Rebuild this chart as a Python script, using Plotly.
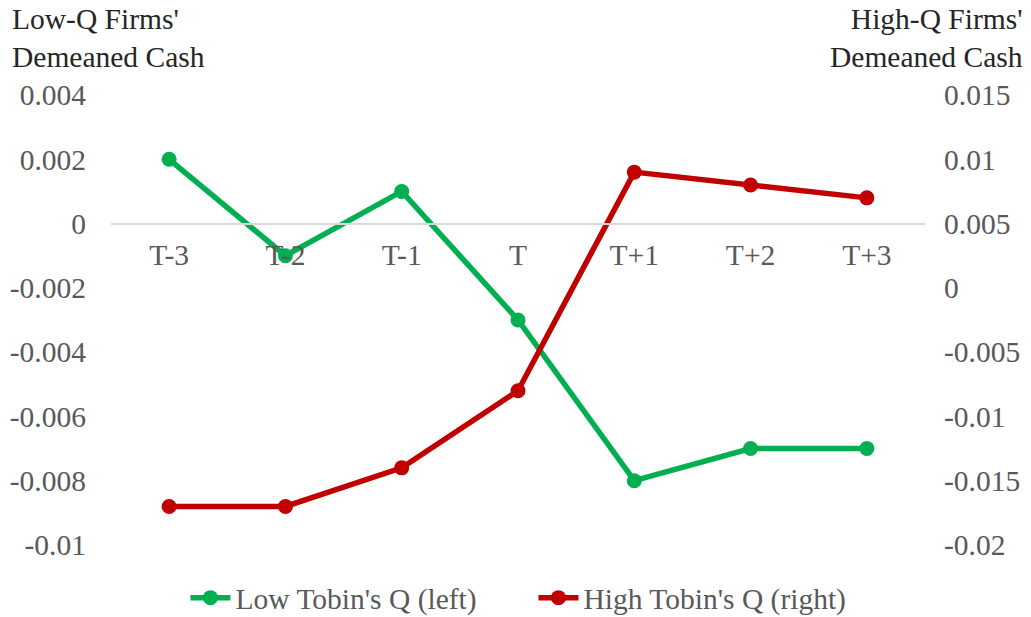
import plotly.graph_objects as go

# Event-time categories and demeaned cash for the two groups of firms
periods = ["T-3", "T-2", "T-1", "T", "T+1", "T+2", "T+3"]
low_q_cash = [0.002, -0.001, 0.001, -0.003, -0.008, -0.007, -0.007]
high_q_cash = [-0.017, -0.017, -0.014, -0.008, 0.009, 0.008, 0.007]

# Axis ticks (left axis for low-Q firms, right axis for high-Q firms)
left_tickvals = [0.004, 0.002, 0, -0.002, -0.004, -0.006, -0.008, -0.01]
left_ticktext = ["0.004", "0.002", "0", "-0.002", "-0.004", "-0.006", "-0.008", "-0.01"]
right_tickvals = [0.015, 0.01, 0.005, 0, -0.005, -0.01, -0.015, -0.02]
right_ticktext = ["0.015", "0.01", "0.005", "0", "-0.005", "-0.01", "-0.015", "-0.02"]

FONT = "Liberation Serif"
SIZE = 29.5
GREEN = "#00B050"
RED = "#C00000"
GREY_TEXT = "#595959"

fig = go.Figure()
fig.add_trace(go.Scatter(
    x=periods, y=low_q_cash, name="Low Tobin's Q (left)",
    mode="lines+markers", line=dict(color=GREEN, width=5.5),
    marker=dict(size=15, color=GREEN), yaxis="y",
))
fig.add_trace(go.Scatter(
    x=periods, y=high_q_cash, name="High Tobin's Q (right)",
    mode="lines+markers", line=dict(color=RED, width=5.5),
    marker=dict(size=15, color=RED), yaxis="y2",
))

fig.update_layout(
    width=1031, height=617,
    margin=dict(l=111, r=106, t=95, b=72, autoexpand=False),
    paper_bgcolor="white", plot_bgcolor="white",
    font=dict(family=FONT, size=SIZE, color=GREY_TEXT),
    showlegend=True,
    legend=dict(
        orientation="h", x=0.519, xanchor="center",
        yref="container", y=(617 - 598) / 617, yanchor="middle",
        font=dict(family=FONT, size=SIZE, color=GREY_TEXT),
        itemwidth=40, tracegroupgap=0, entrywidth=293,
    ),
    xaxis=dict(
        type="category", range=[-0.5, 6.5], anchor="free",
        position=(0.01 / 0.014), automargin=False,
        showline=True, linecolor="#D9D9D9", linewidth=2,
        showgrid=False, zeroline=False, ticks="",
        ticklabelstandoff=5,
        tickfont=dict(family=FONT, size=SIZE, color=GREY_TEXT),
    ),
    yaxis=dict(
        range=[-0.01, 0.004], tickvals=left_tickvals, ticktext=left_ticktext,
        showgrid=False, zeroline=False, showline=False, ticks="",
        ticklabelstandoff=24, automargin=False,
        tickfont=dict(family=FONT, size=SIZE, color=GREY_TEXT),
    ),
    yaxis2=dict(
        range=[-0.02, 0.015], tickvals=right_tickvals, ticktext=right_ticktext,
        overlaying="y", side="right",
        showgrid=False, zeroline=False, showline=False, ticks="",
        ticklabelstandoff=18, automargin=False,
        tickfont=dict(family=FONT, size=SIZE, color=GREY_TEXT),
    ),
)

# Axis titles placed above each value axis
fig.add_annotation(
    text="Low-Q Firms'<br>Demeaned Cash", xref="paper", yref="paper",
    x=-111 / 814, y=1 + 95 / 450, xanchor="left", yanchor="top",
    xshift=10, yshift=-1,
    showarrow=False, align="left",
    font=dict(family=FONT, size=SIZE, color="#262626"),
)
fig.add_annotation(
    text="High-Q Firms'<br>Demeaned Cash", xref="paper", yref="paper",
    x=1 + 106 / 814, y=1 + 95 / 450, xanchor="right", yanchor="top",
    xshift=-6, yshift=-1,
    showarrow=False, align="right",
    font=dict(family=FONT, size=SIZE, color="#262626"),
)

fig.write_html("out.html")
